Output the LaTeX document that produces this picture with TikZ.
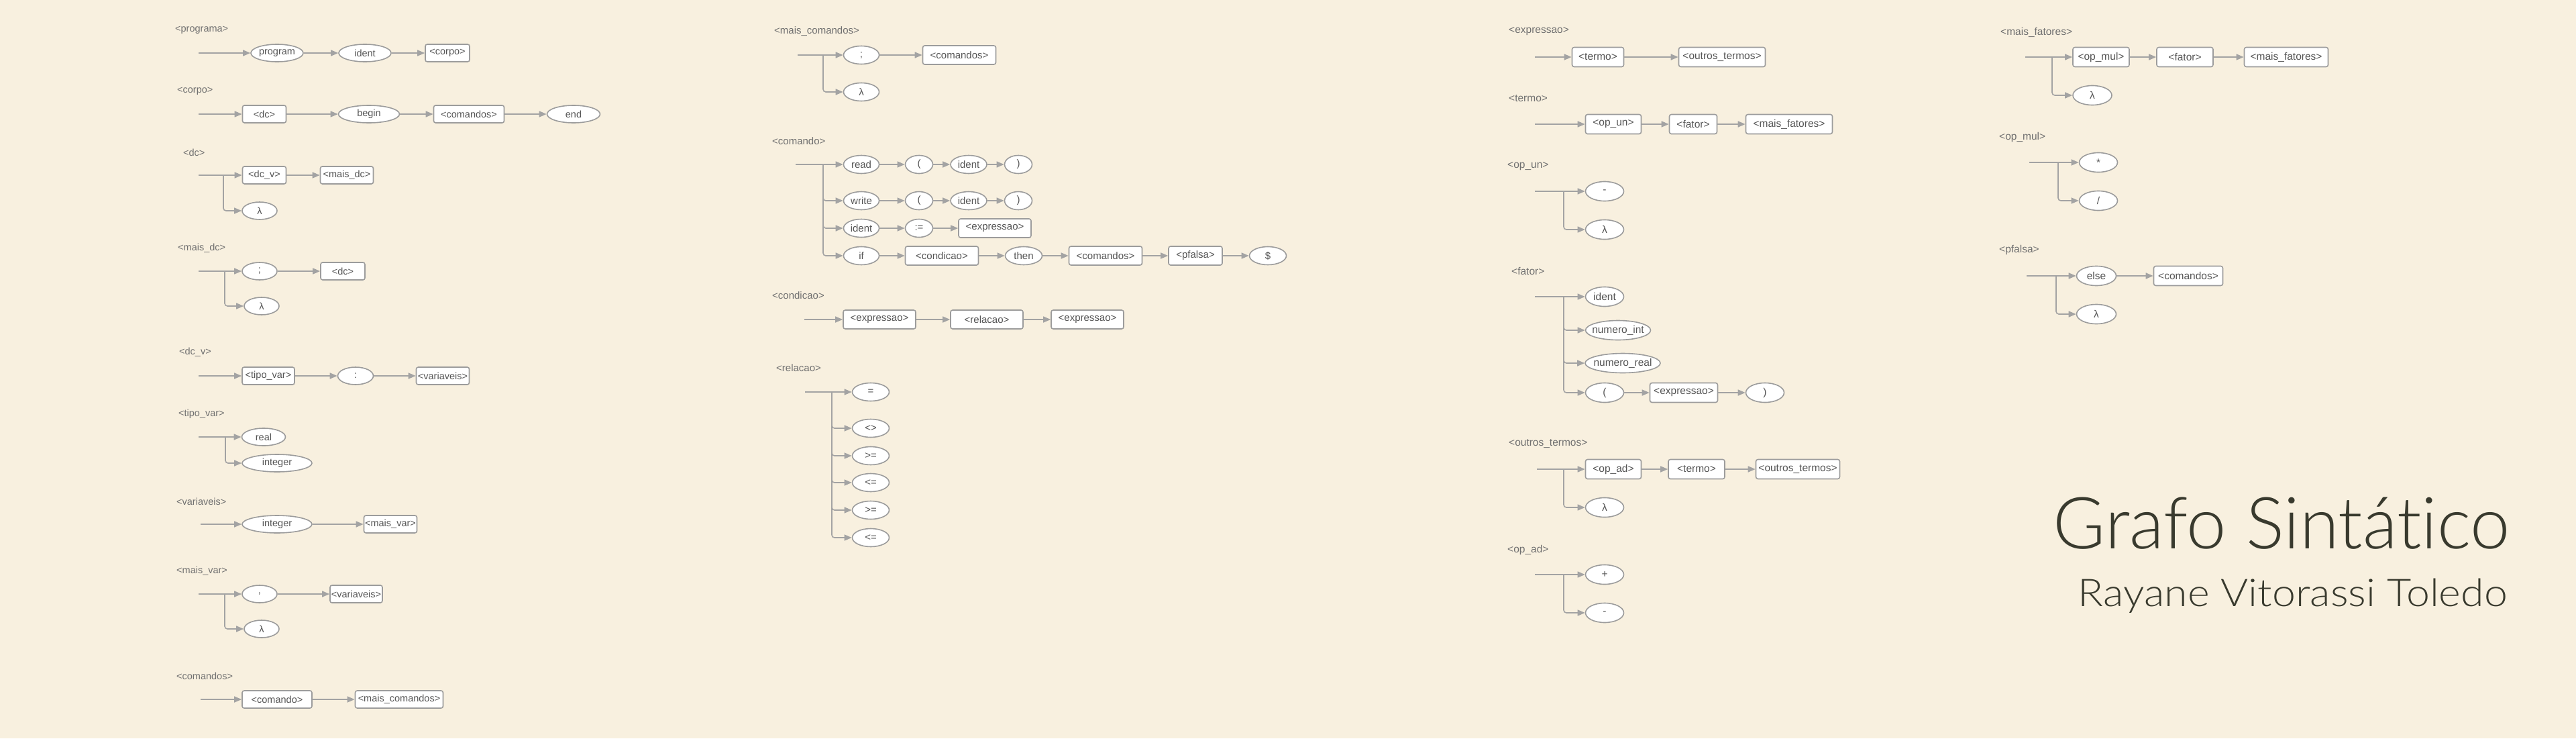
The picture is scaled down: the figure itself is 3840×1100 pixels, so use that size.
\documentclass[tikz,border=0pt]{standalone}
\usepackage{fontspec}
\usepackage{graphicx}
\setmainfont{Liberation Sans}
\newfontfamily\titlefont{Lato Light}[Ligatures=NoCommon]
\usetikzlibrary{shapes.geometric,arrows.meta}
\definecolor{bgc}{HTML}{F8F0DF}
\definecolor{bd}{HTML}{9C9C9C}
\definecolor{ln}{HTML}{A3A3A3}
\definecolor{txt}{HTML}{555555}
\definecolor{lb}{HTML}{707070}
\definecolor{tt}{HTML}{393A2E}
\newcommand{\fsA}{\fontsize{14.5pt}{17pt}\selectfont}
\newcommand{\fsB}{\fontsize{15pt}{18pt}\selectfont}
\newcommand{\fsC}{\fontsize{15.5pt}{18pt}\selectfont}
\tikzset{
  nt/.style={draw=bd, fill=white, line width=1.6pt, rounded corners=3pt, minimum height=26pt, inner sep=1pt, text=txt},
  tm/.style={ellipse, draw=bd, fill=white, line width=1.6pt, minimum height=26pt, inner sep=0pt, text=txt},
  arr/.style={draw=ln, line width=1.6pt, -{Triangle[length=11pt,width=9pt]}},
  br/.style={arr, rounded corners=4pt},
  lbl/.style={anchor=west, inner sep=0pt, text=lb},
  ttl/.style={anchor=base east, inner sep=0pt, text=tt}
}
\begin{document}
\begin{tikzpicture}[x=1pt, y=-1pt, font=\fsA]
\fill[bgc] (0,0) rectangle (3840,1100);
\useasboundingbox (0,0) rectangle (3840,1100);

% ================= column 1 =================
\begin{scope}[font=\fsA]
% programa
\node[lbl] (Lprog) at (261,45) {<programa>};
\coordinate (prog0) at (296,79);
\node[tm, minimum width=78pt] (prog1) at (413,79) {program};
\node[tm, minimum width=78pt] (prog2) at (544,79) {ident};
\node[nt, minimum width=66pt] (prog3) at (667,79) {<corpo>};
\draw[arr] (prog0) -- (prog1);
\draw[arr] (prog1) -- (prog2);
\draw[arr] (prog2) -- (prog3);

% corpo
\node[lbl] (Lcorpo) at (264,136) {<corpo>};
\coordinate (corpo0) at (296,170);
\node[nt, minimum width=65pt] (corpo1) at (394,170) {<dc>};
\node[tm, minimum width=91pt] (corpo2) at (550,170) {begin};
\node[nt, minimum width=105pt] (corpo3) at (699,170) {<comandos>};
\node[tm, minimum width=79pt] (corpo4) at (855,170) {end};
\draw[arr] (corpo0) -- (corpo1);
\draw[arr] (corpo1) -- (corpo2);
\draw[arr] (corpo2) -- (corpo3);
\draw[arr] (corpo3) -- (corpo4);

% dc
\node[lbl] (Ldc) at (273,227) {<dc>};
\coordinate (dc0) at (296,261);
\coordinate (dcB) at (333,261);
\node[nt, minimum width=65pt] (dc1) at (394,261) {<dc\_v>};
\node[nt, minimum width=79pt] (dc2) at (517,261) {<mais\_dc>};
\node[tm, minimum width=52pt] (dc3) at (387,314) {λ};
\draw[arr] (dc0) -- (dc1);
\draw[arr] (dc1) -- (dc2);
\draw[br] (dcB) |- (dc3);

% mais_dc
\node[lbl] (Lmdc) at (265,370) {<mais\_dc>};
\coordinate (mdc0) at (296,404);
\coordinate (mdcB) at (335,404);
\node[tm, minimum width=52pt] (mdc1) at (387,404) {;};
\node[nt, minimum width=66pt] (mdc2) at (511,404) {<dc>};
\node[tm, minimum width=52pt] (mdc3) at (390,456) {λ};
\draw[arr] (mdc0) -- (mdc1);
\draw[arr] (mdc1) -- (mdc2);
\draw[br] (mdcB) |- (mdc3);

% dc_v
\node[lbl] (Ldcv) at (267,525) {<dc\_v>};
\coordinate (dcv0) at (296,560);
\node[nt, minimum width=78pt] (dcv1) at (400,560) {<tipo\_var>};
\node[tm, minimum width=53pt] (dcv2) at (530,560) {:};
\node[nt, minimum width=79pt] (dcv3) at (660,560) {<variaveis>};
\draw[arr] (dcv0) -- (dcv1);
\draw[arr] (dcv1) -- (dcv2);
\draw[arr] (dcv2) -- (dcv3);

% tipo_var
\node[lbl] (Ltv) at (266,617) {<tipo\_var>};
\coordinate (tv0) at (296,651);
\coordinate (tvB) at (336,651);
\node[tm, minimum width=65pt] (tv1) at (393,651) {real};
\node[tm, minimum width=104pt] (tv2) at (413,690) {integer};
\draw[arr] (tv0) -- (tv1);
\draw[br] (tvB) |- (tv2);

% variaveis
\node[lbl] (Lvar) at (263,747) {<variaveis>};
\coordinate (var0) at (299,781);
\node[tm, minimum width=104pt] (var1) at (413,781) {integer};
\node[nt, minimum width=79pt] (var2) at (582,781) {<mais\_var>};
\draw[arr] (var0) -- (var1);
\draw[arr] (var1) -- (var2);

% mais_var
\node[lbl] (Lmv) at (263,851) {<mais\_var>};
\coordinate (mv0) at (296,885);
\coordinate (mvB) at (335,885);
\node[tm, minimum width=52pt] (mv1) at (387,885) {,};
\node[nt, minimum width=78pt] (mv2) at (531,885) {<variaveis>};
\node[tm, minimum width=52pt] (mv3) at (390,937) {λ};
\draw[arr] (mv0) -- (mv1);
\draw[arr] (mv1) -- (mv2);
\draw[br] (mvB) |- (mv3);

% comandos
\node[lbl] (Lcmds) at (263,1007) {<comandos>};
\coordinate (cmds0) at (299,1042);
\node[nt, minimum width=104pt] (cmds1) at (413,1042) {<comando>};
\node[nt, minimum width=131pt] (cmds2) at (595,1042) {<mais\_comandos>};
\draw[arr] (cmds0) -- (cmds1);
\draw[arr] (cmds1) -- (cmds2);
\end{scope}

% ================= column 2 =================
\begin{scope}[font=\fsB, nt/.append style={minimum height=28pt}, tm/.append style={minimum height=27pt}]
% mais_comandos
\node[lbl] (Lmc) at (1154,47) {<mais\_comandos>};
\coordinate (mc0) at (1189,82);
\coordinate (mcB) at (1227,82);
\node[tm, minimum width=53pt] (mc1) at (1284,82) {;};
\node[nt, minimum width=109pt] (mc2) at (1430,82) {<comandos>};
\node[tm, minimum width=53pt] (mc3) at (1284,137) {λ};
\draw[arr] (mc0) -- (mc1);
\draw[arr] (mc1) -- (mc2);
\draw[br] (mcB) |- (mc3);

% comando
\node[lbl] (Lcmd) at (1151,210) {<comando>};
\coordinate (cm0) at (1186,245);
\coordinate (cmB) at (1227,245);
\node[tm, minimum width=53pt] (ra) at (1284,245) {read};
\node[tm, minimum width=41pt] (rb) at (1370,245) {(};
\node[tm, minimum width=54pt] (rc) at (1444,245) {ident};
\node[tm, minimum width=41pt] (rd) at (1518,245) {)};
\node[tm, minimum width=53pt] (wa) at (1284,299) {write};
\node[tm, minimum width=41pt] (wb) at (1370,299) {(};
\node[tm, minimum width=54pt] (wc) at (1444,299) {ident};
\node[tm, minimum width=41pt] (wd) at (1518,299) {)};
\node[tm, minimum width=53pt] (aa) at (1284,340) {ident};
\node[tm, minimum width=41pt] (ab) at (1370,340) {:=};
\node[nt, minimum width=108pt] (ac) at (1483,340) {<expressao>};
\node[tm, minimum width=53pt] (ia) at (1284,381) {if};
\node[nt, minimum width=109pt] (ib) at (1404,381) {<condicao>};
\node[tm, minimum width=55pt] (ic) at (1526,381) {then};
\node[nt, minimum width=109pt] (id) at (1648,381) {<comandos>};
\node[nt, minimum width=80pt] (ie) at (1782,381) {<pfalsa>};
\node[tm, minimum width=55pt] (if) at (1890,381) {\$};
\draw[arr] (cm0) -- (ra);
\draw[arr] (ra) -- (rb);
\draw[arr] (rb) -- (rc);
\draw[arr] (rc) -- (rd);
\draw[br] (cmB) |- (wa);
\draw[arr] (wa) -- (wb);
\draw[arr] (wb) -- (wc);
\draw[arr] (wc) -- (wd);
\draw[br] (cmB) |- (aa);
\draw[arr] (aa) -- (ab);
\draw[arr] (ab) -- (ac);
\draw[br] (cmB) |- (ia);
\draw[arr] (ia) -- (ib);
\draw[arr] (ib) -- (ic);
\draw[arr] (ic) -- (id);
\draw[arr] (id) -- (ie);
\draw[arr] (ie) -- (if);

% condicao
\node[lbl] (Lcond) at (1151,440) {<condicao>};
\coordinate (cd0) at (1199,476);
\node[nt, minimum width=108pt] (cd1) at (1311,476) {<expressao>};
\node[nt, minimum width=108pt] (cd2) at (1471,476) {<relacao>};
\node[nt, minimum width=108pt] (cd3) at (1621,476) {<expressao>};
\draw[arr] (cd0) -- (cd1);
\draw[arr] (cd1) -- (cd2);
\draw[arr] (cd2) -- (cd3);

% relacao
\node[lbl] (Lrel) at (1157,548) {<relacao>};
\coordinate (rl0) at (1200,584);
\coordinate (rlB) at (1240,584);
\node[tm, minimum width=55pt] (rl1) at (1298,584) {=};
\node[tm, minimum width=55pt] (rl2) at (1298,638) {<>};
\node[tm, minimum width=55pt] (rl3) at (1298,679) {>=};
\node[tm, minimum width=55pt] (rl4) at (1298,719) {<=};
\node[tm, minimum width=55pt] (rl5) at (1298,760) {>=};
\node[tm, minimum width=55pt] (rl6) at (1298,801) {<=};
\draw[arr] (rl0) -- (rl1);
\draw[br] (rlB) |- (rl2);
\draw[br] (rlB) |- (rl3);
\draw[br] (rlB) |- (rl4);
\draw[br] (rlB) |- (rl5);
\draw[br] (rlB) |- (rl6);
\end{scope}

% ================= column 3 =================
\begin{scope}[font=\fsC, nt/.append style={minimum height=29pt}, tm/.append style={minimum height=29pt}]
% expressao
\node[lbl] (Lexp) at (2249,47) {<expressao>};
\coordinate (ex0) at (2288,85);
\node[nt, minimum width=77pt] (ex1) at (2382,85) {<termo>};
\node[nt, minimum width=129pt] (ex2) at (2567,85) {<outros\_termos>};
\draw[arr] (ex0) -- (ex1);
\draw[arr] (ex1) -- (ex2);

% termo
\node[lbl] (Lter) at (2249,147) {<termo>};
\coordinate (te0) at (2288,185);
\node[nt, minimum width=83pt] (te1) at (2405,185) {<op\_un>};
\node[nt, minimum width=71pt] (te2) at (2524,185) {<fator>};
\node[nt, minimum width=129pt] (te3) at (2667,185) {<mais\_fatores>};
\draw[arr] (te0) -- (te1);
\draw[arr] (te1) -- (te2);
\draw[arr] (te2) -- (te3);

% op_un
\node[lbl] (Lopun) at (2247,248) {<op\_un>};
\coordinate (ou0) at (2288,285);
\coordinate (ouB) at (2331,285);
\node[tm, minimum width=57pt] (ou1) at (2392,285) {-};
\node[tm, minimum width=57pt] (ou2) at (2392,342) {λ};
\draw[arr] (ou0) -- (ou1);
\draw[br] (ouB) |- (ou2);

% fator
\node[lbl] (Lfat) at (2253,404) {<fator>};
\coordinate (fa0) at (2288,442);
\coordinate (faB) at (2331,442);
\node[tm, minimum width=57pt] (fa1) at (2392,442) {ident};
\node[tm, minimum width=97pt, inner xsep=-5pt] (fa2) at (2412,492) {numero\_int};
\node[tm, minimum width=112pt, inner xsep=-5pt] (fa3) at (2419,541) {numero\_real};
\node[tm, minimum width=57pt] (fa4) at (2392,585) {(};
\node[nt, minimum width=101pt] (fa5) at (2510,585) {<expressao>};
\node[tm, minimum width=57pt] (fa6) at (2631,585) {)};
\draw[arr] (fa0) -- (fa1);
\draw[br] (faB) |- (fa2);
\draw[br] (faB) |- (fa3);
\draw[br] (faB) |- (fa4);
\draw[arr] (fa4) -- (fa5);
\draw[arr] (fa5) -- (fa6);

% outros_termos
\node[lbl] (Lot) at (2249,661) {<outros\_termos>};
\coordinate (ot0) at (2291,699);
\coordinate (otB) at (2331,699);
\node[nt, minimum width=83pt] (ot1) at (2405,699) {<op\_ad>};
\node[nt, minimum width=84pt] (ot2) at (2529,699) {<termo>};
\node[nt, minimum width=125pt] (ot3) at (2680,699) {<outros\_termos>};
\node[tm, minimum width=57pt] (ot4) at (2392,756) {λ};
\draw[arr] (ot0) -- (ot1);
\draw[arr] (ot1) -- (ot2);
\draw[arr] (ot2) -- (ot3);
\draw[br] (otB) |- (ot4);

% op_ad
\node[lbl] (Lopad) at (2247,819) {<op\_ad>};
\coordinate (oa0) at (2288,856);
\coordinate (oaB) at (2331,856);
\node[tm, minimum width=57pt] (oa1) at (2392,856) {+};
\node[tm, minimum width=57pt] (oa2) at (2392,913) {-};
\draw[arr] (oa0) -- (oa1);
\draw[br] (oaB) |- (oa2);
\end{scope}

% ================= column 4 =================
\begin{scope}[font=\fsC, nt/.append style={minimum height=29pt}, tm/.append style={minimum height=29pt}]
% mais_fatores
\node[lbl] (Lmf) at (2982,48) {<mais\_fatores>};
\coordinate (mf0) at (3019,85);
\coordinate (mfB) at (3059,85);
\node[nt, minimum width=84pt] (mf1) at (3132,85) {<op\_mul>};
\node[nt, minimum width=84pt] (mf2) at (3257,85) {<fator>};
\node[nt, minimum width=125pt] (mf3) at (3408,85) {<mais\_fatores>};
\node[tm, minimum width=58pt] (mf4) at (3119,142) {λ};
\draw[arr] (mf0) -- (mf1);
\draw[arr] (mf1) -- (mf2);
\draw[arr] (mf2) -- (mf3);
\draw[br] (mfB) |- (mf4);

% op_mul
\node[lbl] (Lom) at (2980,204) {<op\_mul>};
\coordinate (om0) at (3025,242);
\coordinate (omB) at (3068,242);
\node[tm, minimum width=57pt] (om1) at (3128,242) {*};
\node[tm, minimum width=57pt] (om2) at (3128,299) {/};
\draw[arr] (om0) -- (om1);
\draw[br] (omB) |- (om2);

% pfalsa
\node[lbl] (Lpf) at (2980,372) {<pfalsa>};
\coordinate (pf0) at (3021,411);
\coordinate (pfB) at (3065,411);
\node[tm, minimum width=59pt] (pf1) at (3125,411) {else};
\node[nt, minimum width=103pt] (pf2) at (3262,411) {<comandos>};
\node[tm, minimum width=59pt] (pf3) at (3125,468) {λ};
\draw[arr] (pf0) -- (pf1);
\draw[arr] (pf1) -- (pf2);
\draw[br] (pfB) |- (pf3);
\end{scope}

% ================= title =================
\node[ttl, font=\titlefont\fontsize{107pt}{110pt}\selectfont] (title) at (3742,817) {\scalebox{0.995}[1]{Grafo Sintático}};
\node[ttl, font=\titlefont\fontsize{57pt}{60pt}\selectfont] (author) at (3738,903) {\scalebox{1.10}[1]{Rayane Vitorassi Toledo}};
\end{tikzpicture}
\end{document}
